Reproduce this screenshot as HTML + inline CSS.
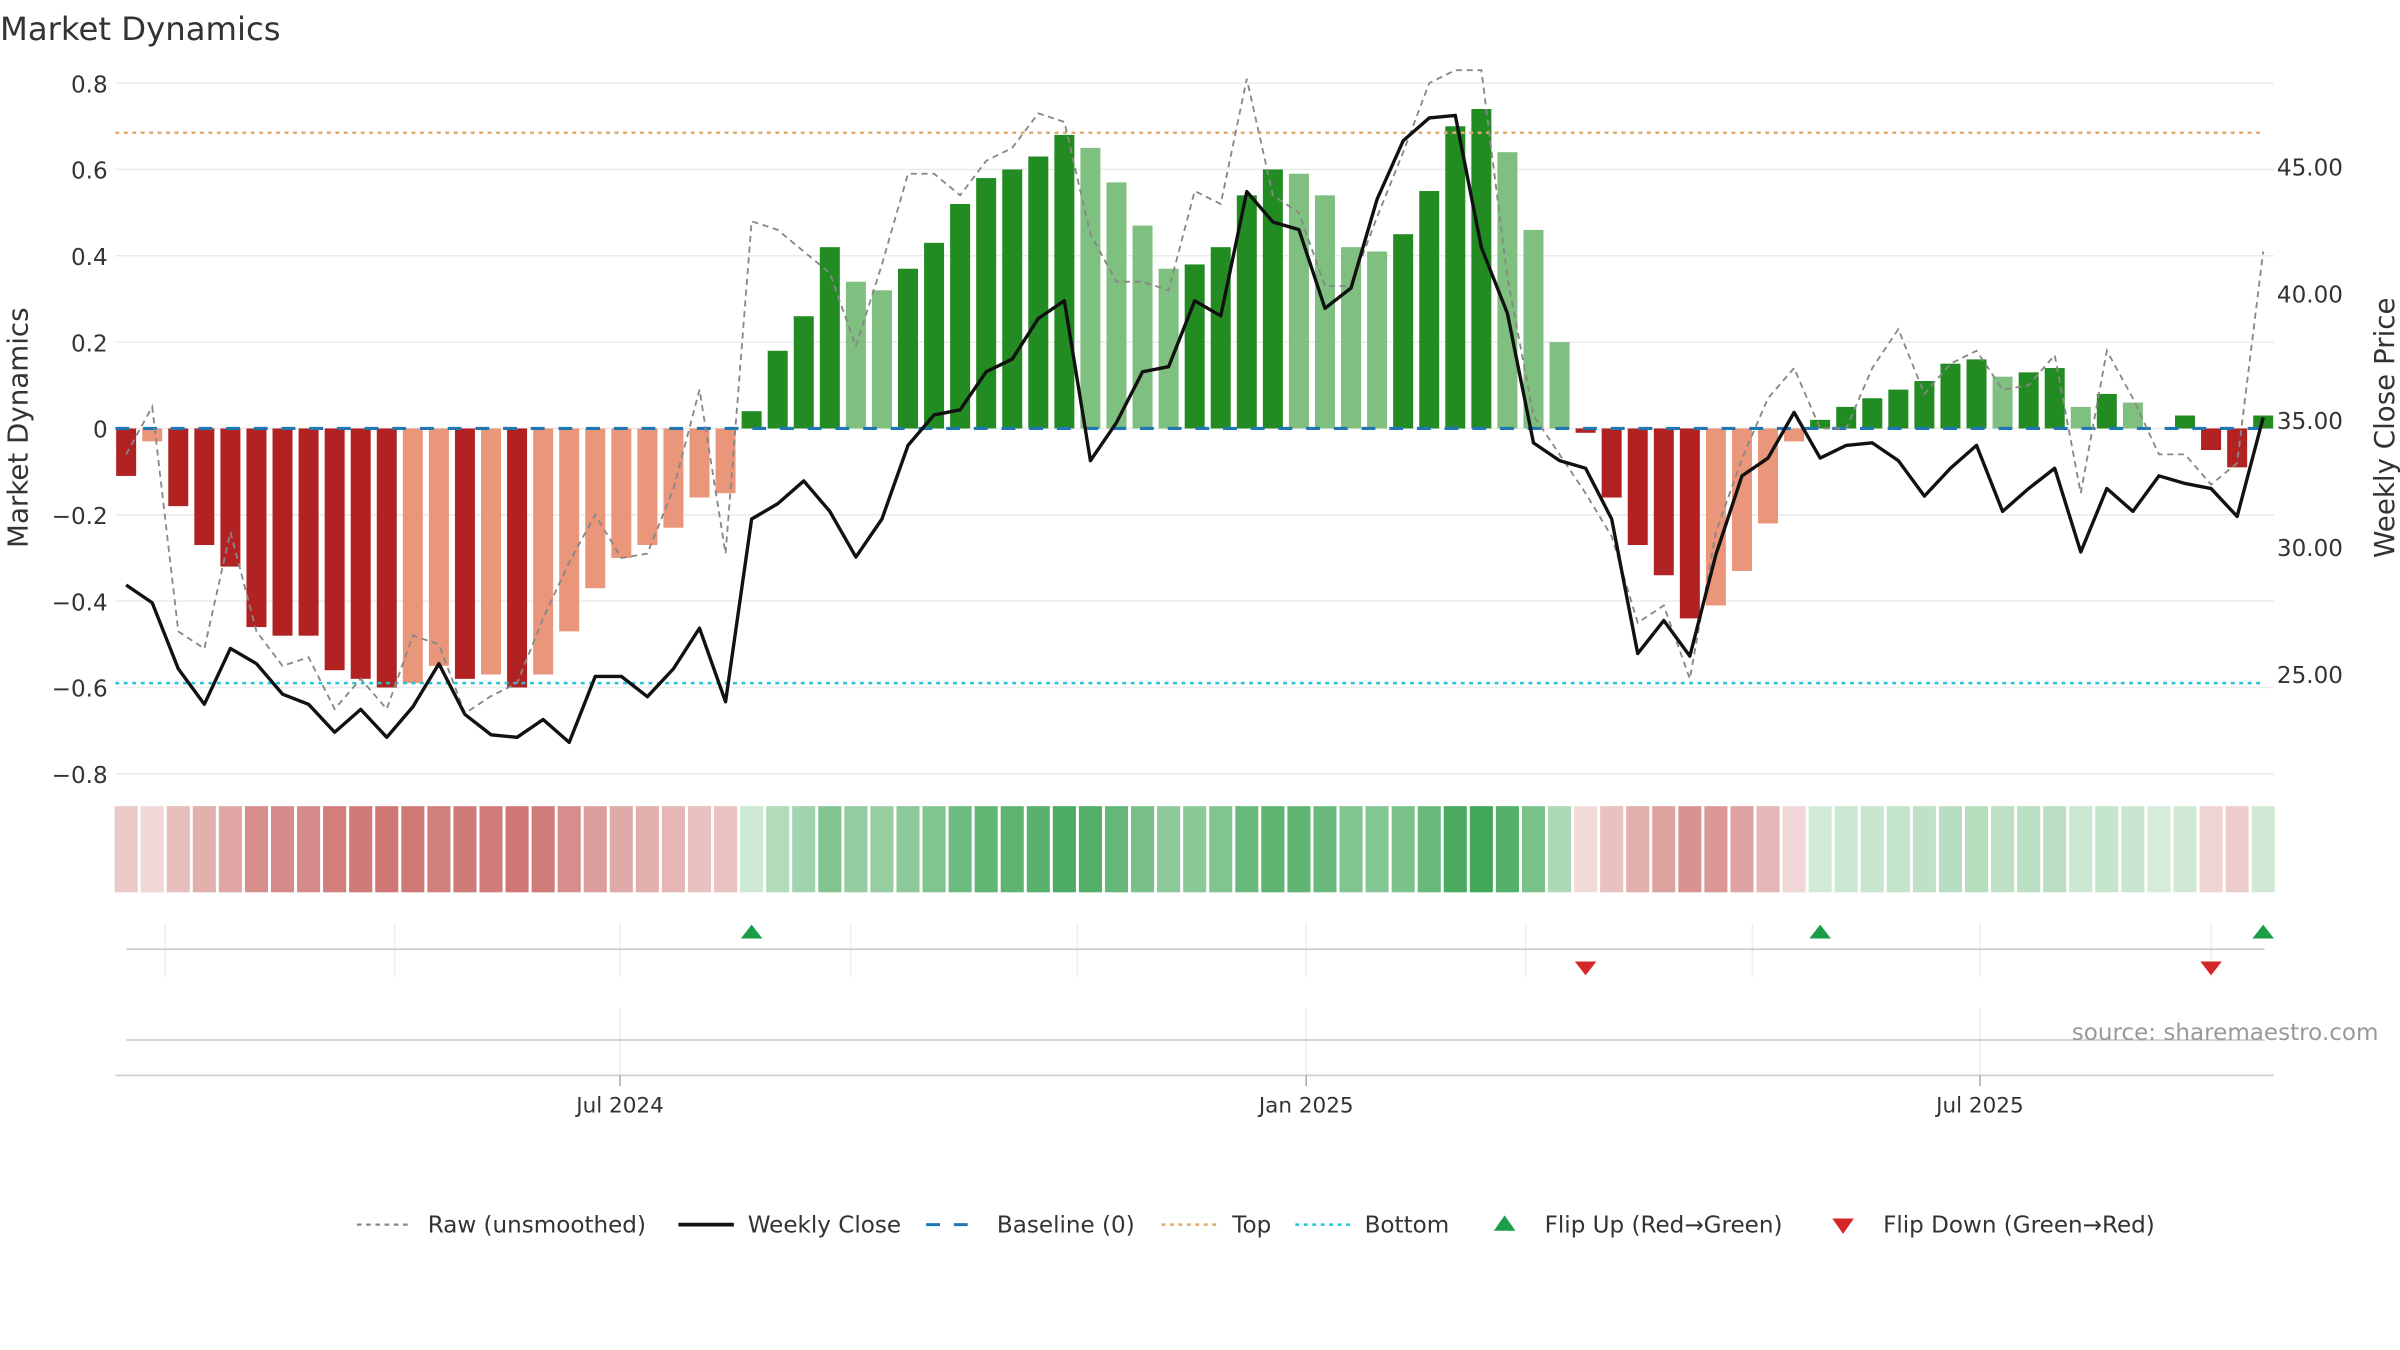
<!DOCTYPE html>
<html><head><meta charset="utf-8"><style>
html,body{margin:0;padding:0;background:#fff;}
svg{display:block;font-family:"DejaVu Sans","Liberation Sans",sans-serif;}
</style></head><body>
<svg id="chart" width="2400" height="1350" viewBox="0 0 1560 877.5" xmlns="http://www.w3.org/2000/svg">
<rect width="1560" height="877.5" fill="#fff"/>
<text x="0" y="26" font-size="21" fill="#333">Market Dynamics</text>
<g id="grid"></g><g id="heat"></g><g id="flips"></g><g id="bars"></g><g id="lines"></g><g id="axes"></g><g id="legend"></g>
<text x="1546" y="676" font-size="15" fill="#999" text-anchor="end">source: sharemaestro.com</text>
</svg>
<script>
const dynamics=[-0.11,-0.03,-0.18,-0.27,-0.32,-0.46,-0.48,-0.48,-0.56,-0.58,-0.60,-0.59,-0.55,-0.58,-0.57,-0.60,-0.57,-0.47,-0.37,-0.30,-0.27,-0.23,-0.16,-0.15,0.04,0.18,0.26,0.42,0.34,0.32,0.37,0.43,0.52,0.58,0.60,0.63,0.68,0.65,0.57,0.47,0.37,0.38,0.42,0.54,0.60,0.59,0.54,0.42,0.41,0.45,0.55,0.70,0.74,0.64,0.46,0.20,-0.01,-0.16,-0.27,-0.34,-0.44,-0.41,-0.33,-0.22,-0.03,0.02,0.05,0.07,0.09,0.11,0.15,0.16,0.12,0.13,0.14,0.05,0.08,0.06,0.00,0.03,-0.05,-0.09,0.03];
const closes=[28.5,27.8,25.2,23.8,26.0,25.4,24.2,23.8,22.7,23.6,22.5,23.7,25.4,23.4,22.6,22.5,23.2,22.3,24.9,24.9,24.1,25.2,26.8,23.9,31.1,31.7,32.6,31.4,29.6,31.1,34.0,35.2,35.4,36.9,37.4,39.0,39.7,33.4,34.9,36.9,37.1,39.7,39.1,44.0,42.8,42.5,39.4,40.2,43.7,46.0,46.9,47.0,41.8,39.2,34.1,33.4,33.1,31.1,25.8,27.1,25.7,29.7,32.8,33.5,35.3,33.5,34.0,34.1,33.4,32.0,33.1,34.0,31.4,32.3,33.1,29.8,32.3,31.4,32.8,32.5,32.3,31.2,35.1];
const raw=[-0.06,0.05,-0.47,-0.51,-0.24,-0.47,-0.55,-0.53,-0.65,-0.58,-0.65,-0.48,-0.50,-0.66,-0.62,-0.59,-0.44,-0.31,-0.20,-0.30,-0.29,-0.14,0.09,-0.29,0.48,0.46,0.41,0.36,0.19,0.38,0.59,0.59,0.54,0.62,0.65,0.73,0.71,0.45,0.34,0.34,0.32,0.55,0.52,0.81,0.54,0.50,0.33,0.33,0.49,0.64,0.80,0.83,0.83,0.35,0.03,-0.06,-0.15,-0.25,-0.45,-0.41,-0.58,-0.24,-0.07,0.07,0.14,0.00,0.00,0.14,0.23,0.08,0.15,0.18,0.09,0.10,0.17,-0.15,0.18,0.07,-0.06,-0.06,-0.13,-0.08,0.41];
const topLevel=0.685, bottomLevel=-0.59;
const leftTicks=[0.8,0.6,0.4,0.2,0,-0.2,-0.4,-0.6,-0.8];
const rightTicks=[45,40,35,30,25];
const dateTickIdx=[18.95,45.28,71.13];
const dateTickLabels=["Jul 2024","Jan 2025","Jul 2025"];
const flipGridIdx=[1.5,10.3,18.95,27.8,36.5,45.28,53.7,62.4,71.13,80];
const flipUps=[24,65,82];
const flipDowns=[56,80];

const NS="http://www.w3.org/2000/svg";
const X0=82,STEP=16.94,PL=75,PR=1478;
const x=i=>X0+i*STEP;
const yL=v=>278.5-v*280.6;
const yR=p=>273-(p-35)*16.5;
function mk(parent,tag,attrs){const e=document.createElementNS(NS,tag);for(const k in attrs)e.setAttribute(k,attrs[k]);document.getElementById(parent).appendChild(e);return e;}
const fmt=v=>v===0?"0":(v<0?"\u2212":"")+Math.abs(v).toFixed(1);

leftTicks.forEach(t=>{
 const l=mk('grid','line',{x1:PL,x2:PR,y1:yL(t),y2:yL(t),stroke:'#ebebeb','stroke-width':1});
 
 
 const tx=mk('axes','text',{x:70,y:yL(t)+6,'font-size':15,fill:'#333','text-anchor':'end'});
 tx.textContent=fmt(t);
 
 
});
rightTicks.forEach(p=>{
 const tx=mk('axes','text',{x:1480,y:yR(p)+6,'font-size':15,fill:'#333'});
 tx.textContent=p.toFixed(2);
 
 
});
let at=mk('axes','text',{x:18,y:278,'font-size':18,fill:'#333','text-anchor':'middle',transform:'rotate(-90 18 278)'});
at.textContent='Market Dynamics';


at=mk('axes','text',{x:1556,y:278,'font-size':18,fill:'#333','text-anchor':'middle',transform:'rotate(-90 1556 278)'});
at.textContent='Weekly Close Price';



dynamics.forEach((v,i)=>{
 const prev=i>0?dynamics[i-1]:0;
 const strong=i===0||Math.sign(v)!==Math.sign(prev)||Math.abs(v)>=Math.abs(prev);
 const col=v>=0?(strong?'#228b22':'#7fbf7f'):(strong?'#b22222':'#e9967a');
 if(v!==0){
  const b=mk('bars','rect',{x:x(i)-6.5,width:13,y:Math.min(yL(v),yL(0)),height:Math.abs(yL(v)-yL(0)),fill:col});
  
  
 }
 const t=Math.min(1,Math.abs(v)/0.75);
 const h=mk('heat','rect',{x:x(i)-7.5,width:15,y:524,height:56,fill:v>=0?'#2f9e48':'#c0504d','fill-opacity':(0.2+0.72*t).toFixed(3)});
 
 
});

let r=mk('lines','line',{x1:PL,x2:1472,y1:yL(topLevel),y2:yL(topLevel),stroke:'#e0aa70','stroke-width':1.6,'stroke-dasharray':'2.5 3'});

r=mk('lines','line',{x1:PL,x2:1472,y1:yL(bottomLevel),y2:yL(bottomLevel),stroke:'#22c4d4','stroke-width':1.6,'stroke-dasharray':'2.5 3'});

r=mk('lines','line',{x1:PL,x2:1472,y1:yL(0),y2:yL(0),stroke:'#1f77b4','stroke-width':2,'stroke-dasharray':'9 9'});

let p=mk('lines','polyline',{points:raw.map((v,i)=>x(i)+','+yL(v)).join(' '),fill:'none',stroke:'#888','stroke-width':1.2,'stroke-dasharray':'4 3'});

p=mk('lines','polyline',{points:closes.map((v,i)=>x(i)+','+yR(v)).join(' '),fill:'none',stroke:'#111','stroke-width':2.2,'stroke-linejoin':'round'});


flipGridIdx.forEach(g=>{
 const l=mk('grid','line',{x1:x(g),x2:x(g),y1:600,y2:635,stroke:'#eeeeee','stroke-width':1});
 
});
r=mk('grid','line',{x1:82,x2:1472,y1:617,y2:617,stroke:'#d0d0d0','stroke-width':1.2});

flipUps.forEach(i=>{
 const t=mk('flips','polygon',{points:`${x(i)-7},610 ${x(i)+7},610 ${x(i)},601`,fill:'#1a9e4a'});
 
});
flipDowns.forEach(i=>{
 const t=mk('flips','polygon',{points:`${x(i)-7},625 ${x(i)+7},625 ${x(i)},634`,fill:'#d62728'});
 
});
dateTickIdx.forEach((g,k)=>{
 const l=mk('grid','line',{x1:x(g),x2:x(g),y1:655,y2:699,stroke:'#eeeeee','stroke-width':1});
 
 const tk=mk('axes','line',{x1:x(g),x2:x(g),y1:699,y2:706,stroke:'#aaa','stroke-width':1});
 
 const tx=mk('axes','text',{x:x(g),y:723,'font-size':14,fill:'#333','text-anchor':'middle'});
 tx.textContent=dateTickLabels[k];
 
});
r=mk('grid','line',{x1:82,x2:1472,y1:676,y2:676,stroke:'#d0d0d0','stroke-width':1.2});

r=mk('grid','line',{x1:PL,x2:PR,y1:699,y2:699,stroke:'#d0d0d0','stroke-width':1.2});


const LY=796;
function legLine(x1,stroke,w,dash){const l=mk('legend','line',{x1:x1,x2:x1+36,y1:LY,y2:LY,stroke:stroke,'stroke-width':w,'stroke-dasharray':dash});return l;}
function legText(tx,s){const t=mk('legend','text',{x:tx,y:LY+5,'font-size':15,fill:'#333'});t.textContent=s;return t;}
let e;
e=legLine(232,'#888',1.4,'3 3');
e=legText(278,'Raw (unsmoothed)');
e=legLine(441,'#111',2.4,'none');
e=legText(486,'Weekly Close');
e=legLine(602,'#1f77b4',2,'9 9');
e=legText(648,'Baseline (0)');
e=legLine(755,'#e0aa70',1.6,'2.5 3');
e=legText(801,'Top');
e=legLine(842,'#22c4d4',1.6,'2.5 3');
e=legText(887,'Bottom');
e=mk('legend','polygon',{points:'971,800 985,800 978,790',fill:'#1a9e4a'});
e=legText(1004,'Flip Up (Red\u2192Green)');
e=mk('legend','polygon',{points:'1191,792 1205,792 1198,802',fill:'#d62728'});
e=legText(1224,'Flip Down (Green\u2192Red)');
</script>
</body></html>
